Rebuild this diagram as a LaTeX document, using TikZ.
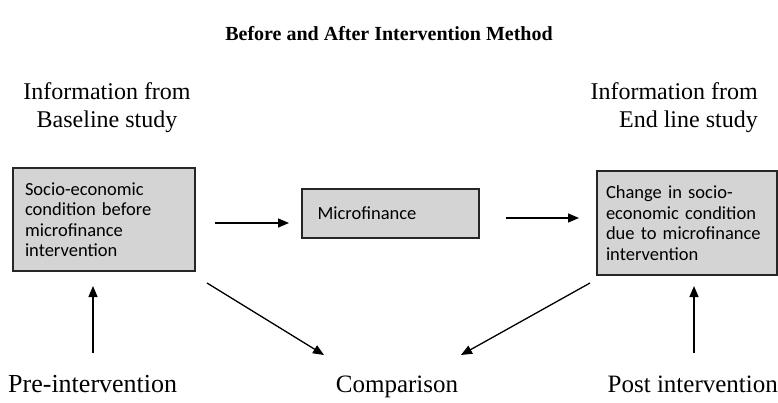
\documentclass[tikz,border=0pt]{standalone}
\usepackage{fontspec}
\setmainfont{Liberation Serif}
\newfontfamily\boxfont{Carlito}
\usetikzlibrary{arrows.meta}

\begin{document}
\begin{tikzpicture}[x=1pt, y=-1pt,
  stage/.style={draw=black!85, line width=1.4pt, fill=black!17, align=left, inner xsep=0pt,
    font=\boxfont\fontsize{18.5}{20.5}\selectfont},
  lbl/.style={font=\fontsize{24}{27.5}\selectfont, inner sep=0pt},
  arr/.style={-{Triangle[length=11pt, width=9pt]}, line width=1.3pt}]
  \useasboundingbox (0,0) rectangle (778,402);
  % title
  \node[font=\bfseries\fontsize{20}{22}\selectfont, anchor=base, inner sep=0pt] (title) at (389,40) {Before and After Intervention Method};
  % information sources
  \node[lbl, align=center, anchor=base] (infoA) at (107,127) {Information from\\ Baseline study};
  \node[lbl, align=right, anchor=base east] (infoB) at (758,127) {Information from\\ End line study};
  % boxes
  \node[stage, minimum width=182pt, minimum height=103pt, text width=158pt] (base) at (104,219.5)
    {Socio-economic\\ condition before\\ microfinance\\ intervention};
  \node[stage, minimum width=177pt, minimum height=49pt, text width=146pt] (micro) at (390.5,213.5)
    {Microfinance};
  \node[stage, minimum width=180pt, minimum height=104pt, text width=162pt] (endl) at (687,223)
    {Change in socio-\\ economic condition\\ due to microfinance\\ intervention};
  % bottom labels
  \node[lbl, font=\fontsize{26}{29}\selectfont, anchor=base west] (pre) at (8,392) {Pre-intervention};
  \node[lbl, font=\fontsize{25}{29}\selectfont, anchor=base] (comp) at (397,392) {Comparison};
  \node[lbl, font=\fontsize{25}{29}\selectfont, anchor=base east] (post) at (778,392) {Post intervention};
  % arrow ends
  \coordinate (a1) at (215,223);
  \coordinate (a2) at (289,223);
  \coordinate (b1) at (506,218);
  \coordinate (b2) at (579,218);
  \coordinate (c1) at (93,353);
  \coordinate (c2) at (93,286);
  \coordinate (d1) at (694,353);
  \coordinate (d2) at (694,286);
  \coordinate (e1) at (207,283);
  \coordinate (e2) at (324,355);
  \coordinate (f1) at (590,283);
  \coordinate (f2) at (461,355);
  \draw[arr] (a1) -- (a2);
  \draw[arr] (b1) -- (b2);
  \draw[arr] (c1) -- (c2);
  \draw[arr] (d1) -- (d2);
  \draw[arr] (e1) -- (e2);
  \draw[arr] (f1) -- (f2);
\end{tikzpicture}
\end{document}
